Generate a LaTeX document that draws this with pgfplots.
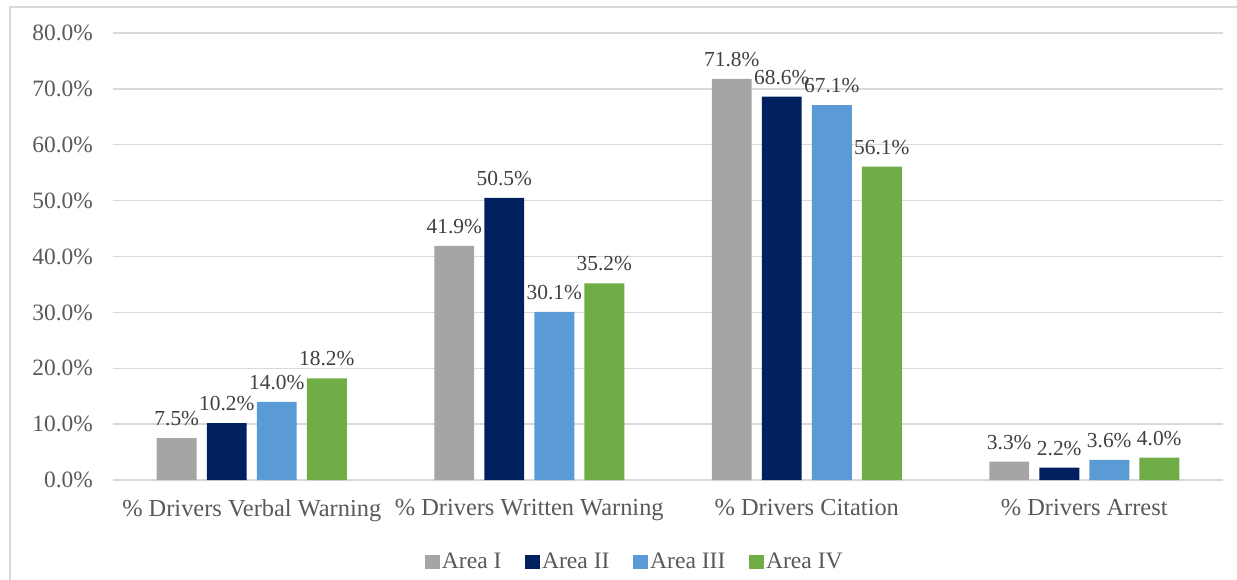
\documentclass[border=0pt]{standalone}
\usepackage{pgfplots}
\pgfplotsset{compat=1.18}
\usepackage{fontspec}
\setmainfont{Liberation Serif}

\definecolor{areaI}{HTML}{A5A5A5}
\definecolor{areaII}{HTML}{002060}
\definecolor{areaIII}{HTML}{5B9BD5}
\definecolor{areaIV}{HTML}{70AD47}
\definecolor{gridc}{HTML}{D9D9D9}
\definecolor{tickc}{HTML}{595959}
\definecolor{labc}{HTML}{404040}

\begin{document}
\begin{tikzpicture}[x=0.5pt,y=-0.5pt]
% page size and outer chart frame
\path[use as bounding box] (0,0) rectangle (1237,579);
\draw[gridc, line width=0.8pt] (10,620) -- (10,7) -- (1260,7);
\begin{axis}[
  at={(113pt*0.5,-480pt*0.5)}, anchor=south west,
  scale only axis,
  width=555pt, height=223.5pt,
  xmin=-0.5, xmax=3.5,
  ymin=0, ymax=80,
  ytick={0,10,...,80},
  xtick={0,1,2,3},
  xticklabels={\% Drivers Verbal Warning,\% Drivers Written Warning,\% Drivers Citation,\% Drivers Arrest},
  /pgf/number format/assume math mode=true,
  yticklabel={\pgfmathprintnumber[fixed,fixed zerofill,precision=1]{\tick}\%},
  yticklabel style={font=\fontsize{11.7pt}{14pt}\selectfont, text=tickc, xshift=-6.5pt},
  xticklabel style={font=\fontsize{12.2pt}{14pt}\selectfont, text=tickc, yshift=-6pt},
  major tick length=0pt,
  axis line style={draw=none},
  ymajorgrids, grid style={gridc, line width=0.7pt},
  bar width=0.1441,
  ybar,
  nodes near coords={\pgfmathprintnumber[fixed,fixed zerofill,precision=1]{\pgfplotspointmeta}\%},
  every node near coord/.append style={font=\fontsize{10.7pt}{12pt}\selectfont, text=labc, yshift=2.5pt},
  legend columns=4,
  legend style={at={(0.471,-0.183)}, anchor=center, draw=none, fill=none,
    font=\fontsize{11.8pt}{14pt}\selectfont, text=tickc,
    /tikz/every odd column/.append style={column sep=-1pt},
    /tikz/every even column/.append style={column sep=9.8pt}},
  legend image code/.code={\fill[#1] (0pt,-3.6pt) rectangle (7.5pt,3.6pt);},
  clip=false,
]
\addplot[fill=areaI, draw=none, bar shift=-0.2703] coordinates {(0,7.5) (1,41.9) (2,71.8) (3,3.3)};
\addplot[fill=areaII, draw=none, bar shift=-0.0901] coordinates {(0,10.2) (1,50.5) (2,68.6) (3,2.2)};
\addplot[fill=areaIII, draw=none, bar shift=0.0901] coordinates {(0,14.0) (1,30.1) (2,67.1) (3,3.6)};
\addplot[fill=areaIV, draw=none, bar shift=0.2703] coordinates {(0,18.2) (1,35.2) (2,56.1) (3,4.0)};
\legend{Area I, Area II, Area III, Area IV}
\end{axis}
\end{tikzpicture}
\end{document}
